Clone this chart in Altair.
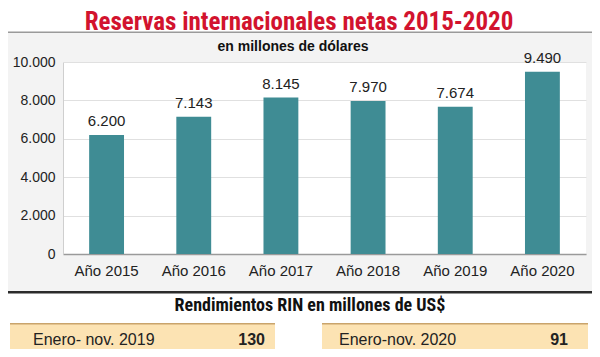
import altair as alt
import pandas as pd

years = ["Año 2015", "Año 2016", "Año 2017", "Año 2018", "Año 2019", "Año 2020"]
values = [6200, 7143, 8145, 7970, 7674, 9490]
y_ticks = [0, 2000, 4000, 6000, 8000, 10000]

title_text = "Reservas internacionales netas 2015-2020"
subtitle_text = "en millones de dólares"
rend_title = "Rendimientos RIN en millones de US$"
rend_labels = ["Enero- nov. 2019", "Enero-nov. 2020"]
rend_values = ["130", "91"]

df = pd.DataFrame({"year": years, "value": values})
one = pd.DataFrame({"a": [0]})

COND = "Liberation Sans Narrow, Roboto Condensed, DejaVu Sans Condensed, Arial Narrow, sans-serif"
SANS = "Liberation Sans, Arial, Helvetica, sans-serif"

# plot origin in reference coordinates
OX, OY = 63, 62
def px(x):
    return x - OX
def py(y):
    return y - OY

def rect(x1, x2, y1, y2, color, **kw):
    return alt.Chart(one).mark_rect(color=color, **kw).encode(
        x=alt.value(px(x1)), x2=alt.value(px(x2)),
        y=alt.value(py(y1)), y2=alt.value(py(y2)))

def label(x, y, t, size, font=SANS, bold=False, color="#222222", align="center",
          baseline="middle"):
    return alt.Chart(one).mark_text(
        fontSize=size, font=font, fontWeight="bold" if bold else "normal",
        color=color, align=align, baseline=baseline
    ).encode(x=alt.value(px(x)), y=alt.value(py(y)), text=alt.value(t))

x_enc = alt.X("year:N", sort=years, title=None,
              scale=alt.Scale(paddingInner=0.6, paddingOuter=0.3),
              axis=alt.Axis(labelAngle=0, labelFontSize=15, labelFont=SANS,
                            labelColor="#222222", labelPadding=9, ticks=False,
                            domainColor="#9a9a9a", domainWidth=1.5))
y_enc = alt.Y("value:Q", title=None,
              scale=alt.Scale(domain=[0, 10000], nice=False),
              axis=alt.Axis(values=y_ticks, labelOverlap=False, labelFontSize=14,
                            labelFont=SANS, labelColor="#222222", labelPadding=8,
                            ticks=False, domainColor="#cfcfcf", gridColor="#e0e0e0",
                            labelExpr="replace(format(datum.value, ','), ',', '.')"))

bars = alt.Chart(df).mark_bar(color="#3f8c94").encode(x=x_enc, y=y_enc)
bar_text = alt.Chart(df).transform_calculate(
    lbl="replace(format(datum.value, ','), ',', '.')"
).mark_text(fontSize=15, font=SANS, color="#222222", baseline="bottom", dy=-6).encode(
    x=x_enc, y=y_enc, text="lbl:N")

decor = [
    rect(0, 610, 0, 32, "#ffffff"),
    rect(0, 610, 31.5, 33, "#9a9a9a"),
    rect(0, 610, 292, 360, "#ffffff"),
    rect(0, 610, 291, 293.5, "#2b2b2b"),
    rect(10, 275, 323, 360, "#fce3b3"),
    rect(10, 275, 323, 324.5, "#c9a46c"),
    rect(322, 588, 323, 360, "#fce3b3"),
    rect(322, 588, 323, 324.5, "#c9a46c"),
]
texts = [
    label(299, 29.5, title_text, 25, font=COND, bold=True, color="#d2132e",
          baseline="alphabetic"),
    label(293, 47, subtitle_text, 14, bold=True, color="#111111"),
    label(310, 306, rend_title, 18, font=COND, bold=True, color="#111111"),
    label(33, 340, rend_labels[0], 16, align="left"),
    label(265, 340, rend_values[0], 16, bold=True, align="right"),
    label(339, 340, rend_labels[1], 16, align="left"),
    label(568, 340, rend_values[1], 16, bold=True, align="right"),
]

chart = alt.layer(*decor, bars, bar_text, *texts).properties(
    width=523, height=192,
    autosize=alt.AutoSizeParams(type="none"),
    padding={"left": 55, "top": 54, "right": 6, "bottom": 95},
    background="#f3f3f3",
).configure_view(fill="#ffffff", stroke=None)

chart.save("out.html", embed_options={"renderer": "svg", "actions": False})
